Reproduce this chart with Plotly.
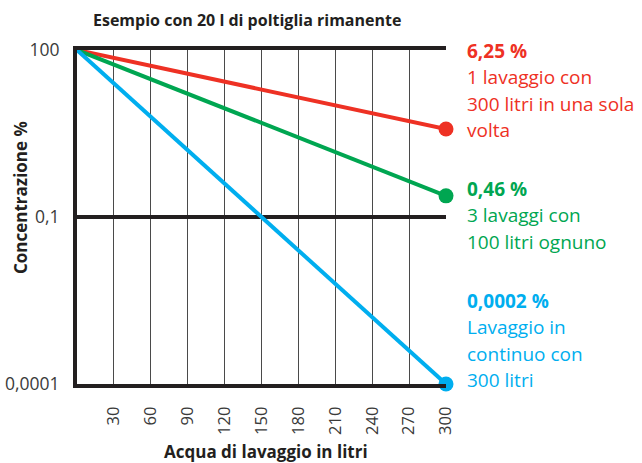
import plotly.graph_objects as go

# Data (log scale, schematic)
x_vals = [0, 300]
red_vals = [100, 3.8]      # 1 lavaggio con 300 litri
green_vals = [100, 0.24]   # 3 lavaggi con 100 litri
blue_vals = [100, 0.0001]  # lavaggio in continuo

x_ticks = [30, 60, 90, 120, 150, 180, 210, 240, 270, 300]
y_ticks = [100, 0.1, 0.0001]
y_ticktext = ["100", "0,1", "0,0001"]

RED = "#EE3124"
GREEN = "#00A651"
BLUE = "#00AEEF"
DARK = "#231F20"
FONT = "Open Sans"

W, H = 642, 463
L, R, T, B = 77, 196, 50, 79
PW, PH = W - L - R, H - T - B

def px(xp):
    return (xp - L) / PW

def py(yp):
    return 1 - (yp - T) / PH

fig = go.Figure()
for vals, col in [(red_vals, RED), (green_vals, GREEN), (blue_vals, BLUE)]:
    fig.add_trace(go.Scatter(
        x=x_vals, y=vals, mode="lines",
        line=dict(color=col, width=4),
        showlegend=False, hoverinfo="skip", cliponaxis=False,
    ))
    fig.add_trace(go.Scatter(
        x=x_vals[-1:], y=vals[-1:], mode="markers",
        marker=dict(size=15, color=col, opacity=1, line=dict(width=0)),
        showlegend=False, hoverinfo="skip", cliponaxis=False,
    ))

fig.update_layout(
    width=W, height=H,
    margin=dict(l=L, r=R, t=T, b=B, autoexpand=False),
    paper_bgcolor="white", plot_bgcolor="white",
    font=dict(family=FONT, color=DARK),
    xaxis=dict(range=[0, 300], tickvals=x_ticks, tickangle=-90,
               showgrid=True, gridcolor="#4a4a4a", gridwidth=1.2,
               showline=True, linecolor=DARK, linewidth=4, mirror=True,
               ticks="", zeroline=False, automargin=False,
               ticklabelstandoff=12,
               tickfont=dict(size=16.5, color="#3a3a3a", family=FONT)),
    yaxis=dict(type="log", range=[-4, 2], tickvals=y_ticks, ticktext=y_ticktext,
               showgrid=True, gridcolor=DARK, gridwidth=4,
               showline=True, linecolor=DARK, linewidth=4,
               ticks="", zeroline=False, automargin=False,
               ticklabelstandoff=10,
               tickfont=dict(size=17.5, color="#3a3a3a", family=FONT)),
)

# titles
fig.add_annotation(xref="paper", yref="paper", x=px(247), y=py(20),
                   xanchor="center", yanchor="middle", showarrow=False,
                   text="<b>Esempio con 20 l di poltiglia rimanente</b>",
                   font=dict(size=16, color=DARK, family=FONT))
fig.add_annotation(xref="paper", yref="paper", x=px(266), y=py(451),
                   xanchor="center", yanchor="middle", showarrow=False,
                   text="<b>Acqua di lavaggio in litri</b>",
                   font=dict(size=17, color=DARK, family=FONT))
fig.add_annotation(xref="paper", yref="paper", x=px(21), y=py(198),
                   xanchor="center", yanchor="middle", showarrow=False, textangle=-90,
                   text="<b>Concentrazione %</b>",
                   font=dict(size=17, color=DARK, family=FONT))

def add_text(lines, color, y_first):
    for i, (t, bold) in enumerate(lines):
        fig.add_annotation(
            xref="paper", yref="paper", x=px(465), xanchor="left",
            y=py(y_first + 26.3 * i), yanchor="middle",
            text=f"<b>{t}</b>" if bold else t, showarrow=False,
            font=dict(size=19, color=color, family=FONT),
        )

add_text([("6,25 %", True), ("1 lavaggio con", False), ("300 litri in una sola", False), ("volta", False)], RED, 51)
add_text([("0,46 %", True), ("3 lavaggi con", False), ("100 litri ognuno", False)], GREEN, 189)
add_text([("0,0002 %", True), ("Lavaggio in", False), ("continuo con", False), ("300 litri", False)], BLUE, 301)

fig.write_html("out.html", config={"displayModeBar": False},
               post_script="document.body.style.margin='0';")
